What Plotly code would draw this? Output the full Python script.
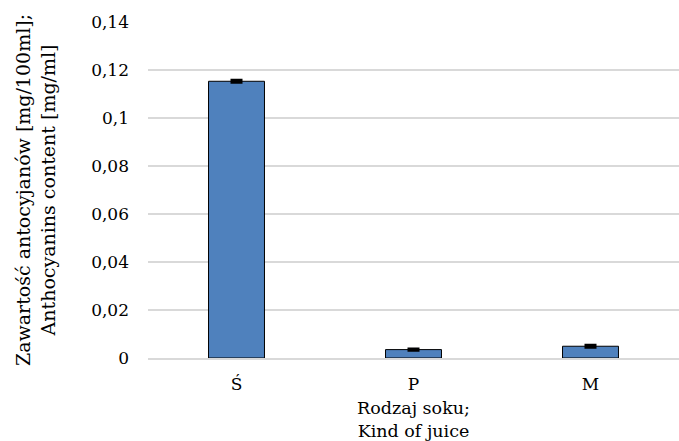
import plotly.graph_objects as go

# Juice types and their anthocyanin content
juices = ["Ś", "P", "M"]
content = [0.1153, 0.0035, 0.0049]
error = [0.0005, 0.0004, 0.0005]

y_ticks = [0, 0.02, 0.04, 0.06, 0.08, 0.1, 0.12, 0.14]
y_tick_labels = ["0", "0,02", "0,04", "0,06", "0,08", "0,1", "0,12", "0,14"]

FONT = "DejaVu Serif"

fig = go.Figure(
    go.Bar(
        x=juices,
        y=content,
        marker=dict(color="#4F81BD", line=dict(color="black", width=1)),
        error_y=dict(type="data", array=error, color="black", thickness=2.5, width=6),
    )
)

fig.update_layout(
    width=679,
    height=441,
    margin=dict(l=148, r=0, t=22, b=83),
    paper_bgcolor="white",
    plot_bgcolor="white",
    bargap=0.684,
    showlegend=False,
    font=dict(family=FONT, size=17, color="black"),
)

fig.update_xaxes(
    showgrid=False,
    showline=True,
    linecolor="#d9d9d9",
    linewidth=1.5,
    ticks="",
    ticklabelstandoff=10,
    title=dict(text="Rodzaj soku;<br>Kind of juice", standoff=9,
               font=dict(family=FONT, size=17.5)),
)

fig.update_yaxes(
    range=[0, 0.14],
    tickvals=y_ticks,
    ticktext=y_tick_labels,
    showgrid=True,
    gridcolor="#d9d9d9",
    gridwidth=1.5,
    zeroline=False,
    showline=False,
    ticks="",
    ticklabelstandoff=18,
    title=dict(text="Zawartość antocyjanów [mg/100ml];<br>Anthocyanins content [mg/ml]",
               standoff=30, font=dict(family=FONT, size=19)),
)

fig.write_html("out.html")
